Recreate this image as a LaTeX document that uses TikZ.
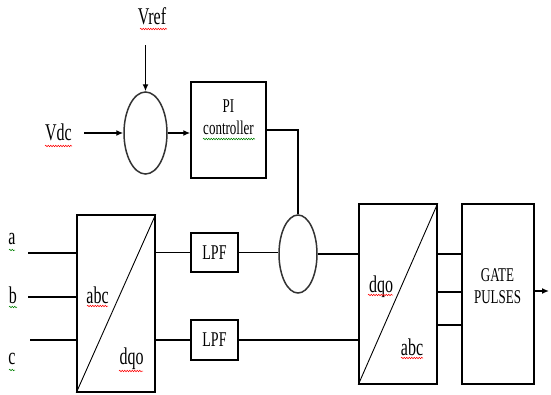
\documentclass[tikz,border=0pt]{standalone}
\usepackage{fontspec}
\setmainfont{Liberation Serif}
\usepackage{tikz}
\usetikzlibrary{arrows.meta,positioning,shapes.geometric,decorations.pathmorphing}
\newcommand{\tall}[1]{\scalebox{1}[1.5]{#1}}
\tikzset{
  block/.style={rectangle, draw=black, line width=1.5pt, inner sep=0pt},
  junction/.style={ellipse, draw=black!80, line width=1.5pt, inner sep=0pt},
  bigtxt/.style={inner sep=0pt, font=\fontsize{16}{18}\selectfont},
  smalltxt/.style={inner sep=0pt, align=center, font=\fontsize{13}{14.5}\selectfont},
  arrow/.style={-{Latex[length=7pt,width=6pt]}, line width=1.5pt},
  line/.style={line width=1.5pt},
  redsquig/.style={draw=red, line width=0.5pt, decorate, decoration={snake, amplitude=0.8pt, segment length=2.5pt}},
  greensquig/.style={draw=green!50!black, line width=0.5pt, decorate, decoration={snake, amplitude=0.8pt, segment length=2.5pt}}
}
\begin{document}
\begin{tikzpicture}[x=1pt, y=-1pt]
\useasboundingbox (0,0) rectangle (551,394);
% dc voltage loop
\node[bigtxt] (vref) at (152,16) {\tall{Vref}};
\node[bigtxt] (vdc) at (58.5,132) {\tall{Vdc}};
\coordinate (vreftail) at (145.5,45);
\coordinate (vdctail) at (84,133);
\node[junction, minimum width=43pt, minimum height=82pt] (sum1) at (145.5,133) {};
\node[block, minimum width=75pt, minimum height=96pt] (pi) at (228.5,130) {};
\node[smalltxt] at (228.5,119) {\tall{\begin{tabular}{@{}c@{}}PI\\controller\end{tabular}}};
% abc to dqo
\node[bigtxt] (a) at (12,239) {\tall{a}};
\node[bigtxt] (b) at (13,295) {\tall{b}};
\node[bigtxt] (c) at (12,359) {\tall{c}};
\coordinate (ina) at (28,253);
\coordinate (inb) at (28,297);
\coordinate (inc) at (30,340);
\node[block, minimum width=78pt, minimum height=177pt] (conv1) at (116,303.5) {};
\draw[line width=0.9pt] (conv1.south west) -- (conv1.north east);
\node[bigtxt] at (97.5,295) {\tall{abc}};
\node[bigtxt] at (131.5,359) {\tall{dqo}};
\node[block, minimum width=47pt, minimum height=39pt, font=\fontsize{14}{16}\selectfont] (lpf1) at (214.5,252.5) {\tall{LPF}};
\node[block, minimum width=47pt, minimum height=40pt, font=\fontsize{14}{16}\selectfont] (lpf2) at (214.5,340) {\tall{LPF}};
\node[junction, minimum width=38pt, minimum height=78pt] (sum2) at (298,254) {};
% dqo to abc and gate pulses
\node[block, minimum width=78pt, minimum height=180pt] (conv2) at (398,294) {};
\draw[line width=0.9pt] (conv2.south west) -- (conv2.north east);
\node[bigtxt] at (381,287) {\tall{dqo}};
\node[bigtxt] at (412,347) {\tall{abc}};
\node[block, minimum width=72pt, minimum height=180pt] (gate) at (498,294) {};
\node[smalltxt] at (497.5,288.5) {\tall{\begin{tabular}{@{}c@{}}GATE\\PULSES\end{tabular}}};
\coordinate (out) at (549,291);

% connectors
\draw[arrow] (vreftail) -- (sum1.north);
\draw[arrow] (vdctail) -- (sum1.west);
\draw[arrow] (sum1.east) -- (pi.west |- sum1.east);
\draw[line] (pi.east) -| (sum2.north);
\foreach \p in {ina,inb,inc}
  \draw[line] (\p) -- (\p -| conv1.west);
\draw[line] (lpf1.west -| conv1.east) -- (lpf1.west);
\draw[line] (lpf2.west -| conv1.east) -- (lpf2.west);
\draw[line] (lpf1.east) -- (lpf1.east -| sum2.west);
\draw[line] (sum2.east) -- (sum2.east -| conv2.west);
\draw[line] (lpf2.east) -- (lpf2.east -| conv2.west);
\foreach \y in {254,292,325}
  \draw[line] (conv2.east |- 0,\y) -- (gate.west |- 0,\y);
\draw[arrow] (gate.east |- out) -- (out);

% spelling marks
\draw[redsquig] (140,29) -- (167,29);
\draw[redsquig] (45,146) -- (72,146);
\draw[greensquig] (203,139) -- (255,139);
\draw[greensquig] (9,250) -- (15,250);
\draw[greensquig] (9,307) -- (17,307);
\draw[greensquig] (9,370) -- (15,370);
\draw[redsquig] (87,306) -- (108,306);
\draw[redsquig] (119,371) -- (143,371);
\draw[redsquig] (368,295) -- (393,295);
\draw[redsquig] (401,358) -- (423,358);
\end{tikzpicture}
\end{document}
